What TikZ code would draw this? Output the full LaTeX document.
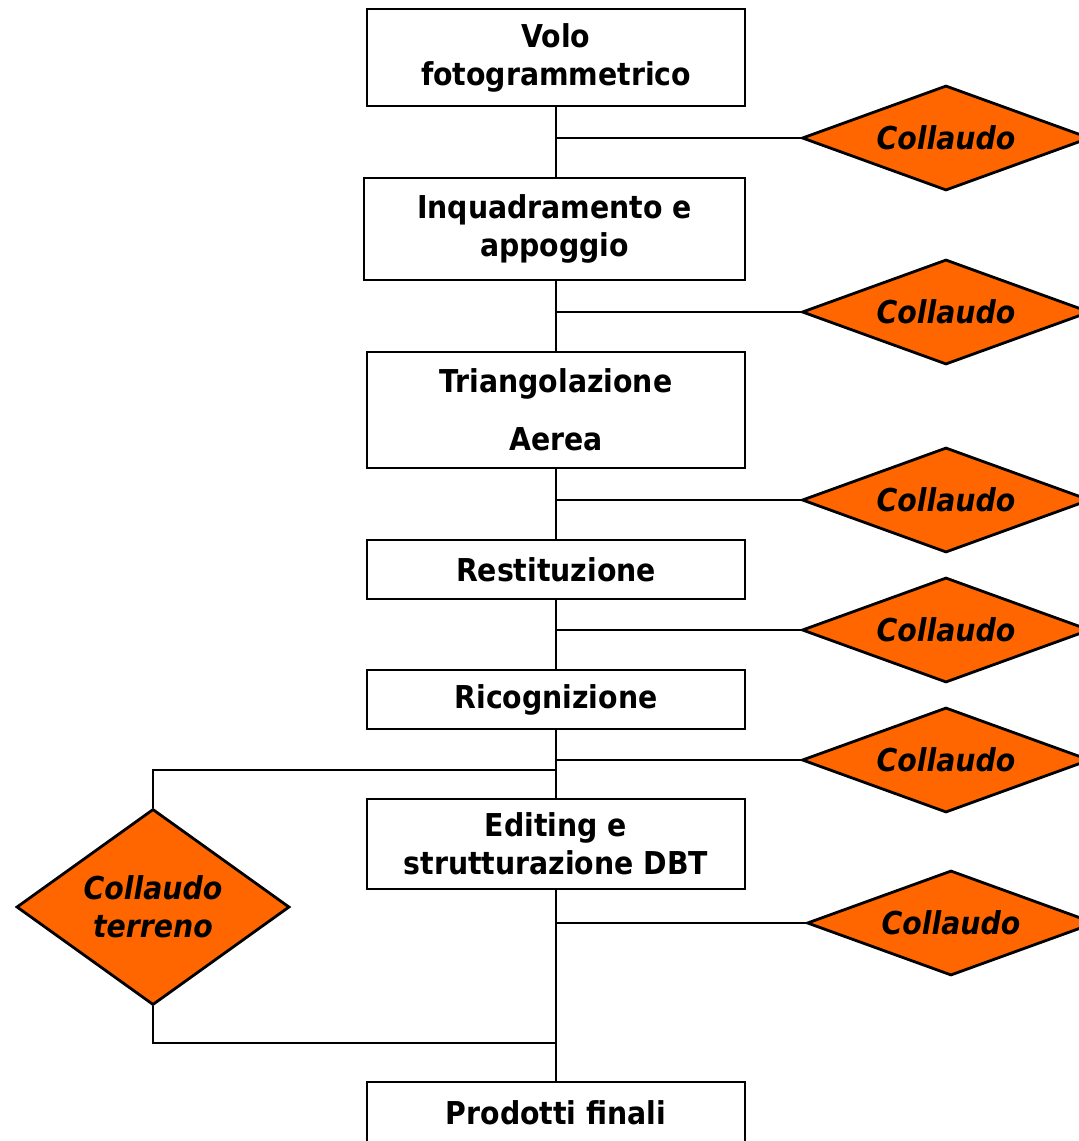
\documentclass[tikz,border=0pt]{standalone}
\usepackage{fontspec}
\setmainfont{DejaVu Sans Condensed}
\usetikzlibrary{shapes.geometric}
\definecolor{collorange}{RGB}{255,102,0}
\tikzset{
  fase/.style={draw, line width=2.8pt, fill=white, minimum width=378pt, align=center,
    font=\fontsize{31.5}{38}\selectfont\bfseries, inner sep=0pt},
  collaudo/.style={diamond, draw, line width=2.8pt, fill=collorange, inner sep=0pt,
    aspect=2.75, minimum width=288pt, minimum height=105pt, align=center,
    font=\fontsize{31.5}{38}\selectfont\bfseries\itshape},
  conn/.style={line width=2.8pt}
}
\begin{document}
\begin{tikzpicture}[x=1pt, y=-1pt]
  \useasboundingbox (0,0) rectangle (1079,1141);
  \clip (0,0) rectangle (1079,1141);
  \node[fase, minimum height=97pt] (volo) at (556,57.5) {Volo\\fotogrammetrico};
  \node[fase, minimum width=381pt, minimum height=102pt] (inquadr) at (554.5,229) {Inquadramento e\\appoggio};
  \node[fase, minimum height=116pt] (triang) at (556,410) {Triangolazione\\[20pt]Aerea};
  \node[fase, minimum height=59pt] (restit) at (556,569.5) {Restituzione};
  \node[fase, minimum height=59pt] (ricogn) at (556,699.5) {Ricognizione};
  \node[fase, minimum height=90pt] (editing) at (556,844) {Editing e\\strutturazione DBT};
  \node[fase, minimum height=62pt] (prodotti) at (556,1113) {Prodotti finali};

  \node[collaudo] (coll1) at (946,138) {Collaudo};
  \node[collaudo] (coll2) at (946,312) {Collaudo};
  \node[collaudo] (coll3) at (946,500) {Collaudo};
  \node[collaudo] (coll4) at (946,630) {Collaudo};
  \node[collaudo] (coll5) at (946,760) {Collaudo};
  \node[collaudo] (coll6) at (951,923) {Collaudo};
  \node[collaudo, aspect=1.4, minimum width=273pt, minimum height=196pt] (terreno) at (153,907) {Collaudo\\terreno};

  \draw[conn] (volo.south) -- (volo.south |- inquadr.north);
  \draw[conn] (volo.south |- inquadr.south) -- (triang.north);
  \draw[conn] (triang) -- (restit);
  \draw[conn] (restit) -- (ricogn);
  \draw[conn] (ricogn) -- (editing);
  \draw[conn] (editing) -- (prodotti);

  \draw[conn] (volo.south |- coll1.west) -- (coll1.west);
  \draw[conn] (volo.south |- coll2.west) -- (coll2.west);
  \draw[conn] (volo.south |- coll3.west) -- (coll3.west);
  \draw[conn] (volo.south |- coll4.west) -- (coll4.west);
  \draw[conn] (volo.south |- coll5.west) -- (coll5.west);
  \draw[conn] (volo.south |- coll6.west) -- (coll6.west);

  \coordinate (andata) at (556,770);
  \coordinate (ritorno) at (556,1043);
  \draw[conn] (andata) -| (terreno.north);
  \draw[conn] (terreno.south) |- (ritorno);
\end{tikzpicture}
\end{document}
